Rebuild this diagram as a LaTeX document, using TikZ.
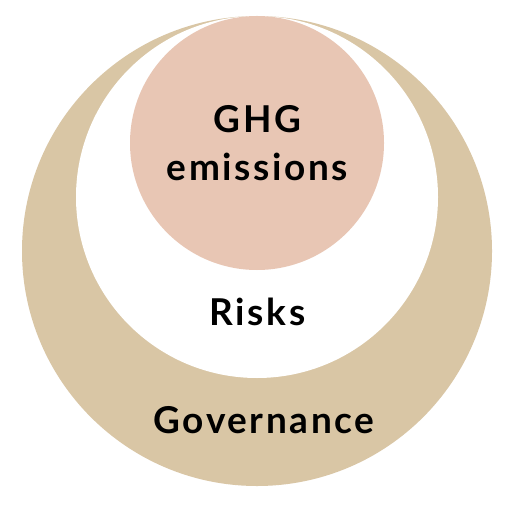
\documentclass[tikz,border=0pt]{standalone}
\usepackage{fontspec}
\setmainfont{Lato}[LetterSpace=7]
\definecolor{tan}{HTML}{D9C6A5}
\definecolor{pinkc}{HTML}{E8C6B4}
\begin{document}
\begin{tikzpicture}[x=1pt,y=-1pt,
  lbl/.style={anchor=base,font=\bfseries\fontsize{37}{40}\selectfont,text=black,inner sep=0pt}]
\useasboundingbox[fill=white] (0,0) rectangle (512,513);
\fill[tan] (257,251) circle[radius=235];
\fill[white] (257,197) circle[radius=181];
\fill[pinkc] (257,143) circle[radius=127];
\node[lbl] (ghg) at (257.5,132) {GHG};
\node[lbl] (em) at (257.5,180) {emissions};
\node[lbl] (risks) at (257.5,325) {Risks};
\node[lbl] (gov) at (264,433) {Governance};
\end{tikzpicture}
\end{document}
